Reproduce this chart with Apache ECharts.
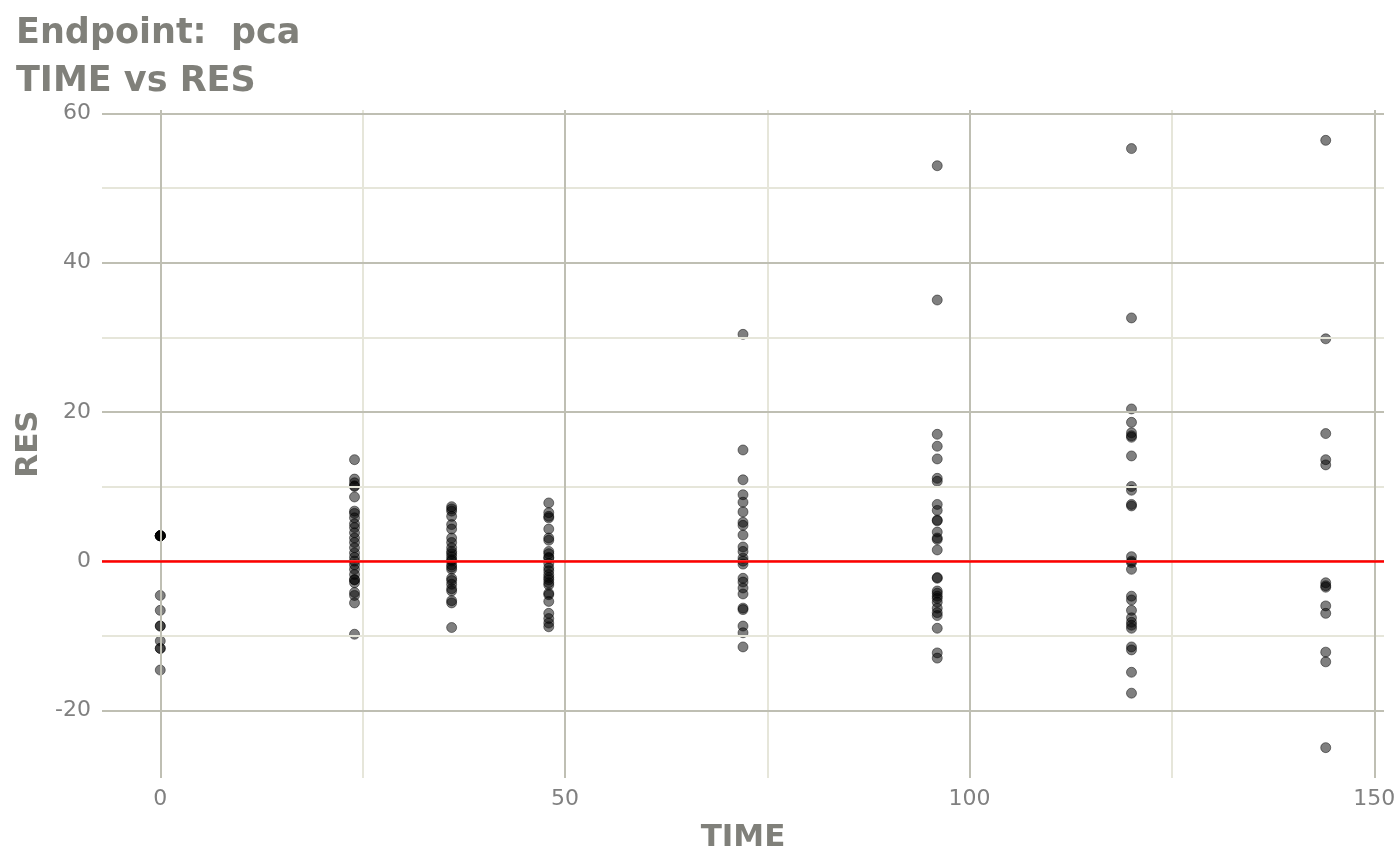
<!DOCTYPE html>
<html>
<head>
<meta charset="utf-8">
<script src="https://cdn.jsdelivr.net/npm/echarts@6/dist/echarts.min.js"></script>
<style>html,body{margin:0;padding:0;background:#fff}#c{width:1400px;height:865px}</style>
</head>
<body>
<div id="c"></div>
<script>
// ---- data ----
const times = [0, 24, 36, 48, 72, 96, 120, 144];
const res0   = [3.4, 3.4, 3.4, 3.4, 3.4, 3.4, -4.6, -6.6, -8.7, -8.7, -10.7, -11.7, -11.7, -14.6];
const res24  = [13.6, 11.0, 10.5, 10.1, 10.0, 8.6, 6.7, 6.4, 5.8, 5.0, 4.5, 3.8, 3.1, 2.5, 1.8, 1.1, 0.5, 0.0, -0.5, -1.1, -1.8, -2.5, -2.5, -2.9, -4.2, -4.6, -5.6, -9.8];
const res36  = [7.3, 7.0, 6.7, 6.0, 4.9, 4.3, 3.1, 2.5, 1.8, 1.3, 1.0, 0.6, 0.2, 0.0, -0.5, -0.8, -1.1, -2.3, -2.6, -3.1, -3.7, -4.0, -5.3, -5.6, -8.9];
const res48  = [7.8, 6.5, 6.0, 5.8, 4.3, 3.1, 2.8, 1.3, 1.0, 0.5, 0.4, -0.3, -0.9, -1.3, -1.8, -2.2, -2.5, -2.9, -3.2, -4.3, -4.5, -5.4, -7.0, -7.7, -8.3, -8.8];
const res72  = [30.4, 14.9, 10.9, 8.9, 7.9, 6.6, 5.2, 4.8, 3.5, 1.9, 1.3, 0.4, 0.0, -0.4, -2.3, -2.8, -3.6, -4.4, -6.3, -6.5, -8.7, -9.6, -11.5];
const res96  = [53.0, 35.0, 17.0, 15.4, 13.7, 11.1, 10.7, 7.6, 6.8, 5.5, 5.4, 3.9, 3.1, 2.9, 1.5, -2.2, -2.3, -4.0, -4.3, -4.7, -5.0, -5.5, -6.3, -6.9, -7.3, -9.0, -12.3, -13.0];
const res120 = [55.3, 32.6, 20.4, 18.6, 17.2, 16.8, 16.6, 14.1, 10.0, 9.5, 7.6, 7.4, 0.6, 0.0, -0.2, -1.1, -4.7, -5.2, -6.6, -7.6, -8.2, -8.6, -9.0, -11.5, -11.9, -14.9, -17.7];
const res144 = [56.4, 29.8, 17.1, 13.6, 12.9, -2.9, -3.3, -3.5, -6.0, -7.0, -12.2, -13.5, -25.0];
const resByTime = [res0, res24, res36, res48, res72, res96, res120, res144];

const xTicks = [0, 50, 100, 150];
const xMinor = [25, 75, 125];
const yTicks = [-20, 0, 20, 40, 60];
const yMinor = [-10, 10, 30, 50];
const refLine = 0;

// ---- build ----
const points = [];
times.forEach((t, i) => resByTime[i].forEach(v => points.push([t, v])));

const FONT = 'DejaVu Sans';
const MAJOR = '#bfbfb3';
const MINOR = '#e6e6da';

function gl(axis, vals, color) {
  return vals.map(v => ({ [axis]: v, lineStyle: { color: color, width: 2, type: 'solid' } }));
}

const chart = echarts.init(document.getElementById('c'), null, { renderer: 'canvas' });
chart.setOption({
  backgroundColor: '#ffffff',
  animation: false,
  title: {
    text: 'Endpoint:  pca\nTIME vs RES',
    left: 16, top: 10, padding: 0,
    textStyle: { fontFamily: FONT, fontSize: 35, fontWeight: 'bold', color: '#80807a', lineHeight: 48 }
  },
  grid: { left: 102, right: 16, top: 110, bottom: 87 },
  xAxis: {
    type: 'value', min: -7.2, max: 151.2,
    name: 'TIME', nameLocation: 'middle', nameGap: 44,
    nameTextStyle: { fontFamily: FONT, fontSize: 31, fontWeight: 'bold', color: '#80807a', verticalAlign: 'top' },
    axisLine: { show: false },
    axisTick: { show: true, customValues: xTicks, length: 6, lineStyle: { color: '#707070', width: 2 } },
    axisLabel: { customValues: xTicks, fontFamily: FONT, fontSize: 22, color: '#808080', margin: 10 },
    splitLine: { show: false }
  },
  yAxis: {
    type: 'value', min: -29.07, max: 60.47,
    name: 'RES', nameLocation: 'middle', nameGap: 56, nameRotate: 90,
    nameTextStyle: { fontFamily: FONT, fontSize: 31, fontWeight: 'bold', color: '#80807a' },
    axisLine: { show: false },
    axisTick: { show: true, customValues: yTicks, length: 6, lineStyle: { color: '#707070', width: 2 } },
    axisLabel: { customValues: yTicks, fontFamily: FONT, fontSize: 22, color: '#808080', margin: 11 },
    splitLine: { show: false }
  },
  series: [
    {
      type: 'scatter', data: [], silent: true, z: 1,
      markLine: {
        silent: true, symbol: 'none', animation: false,
        label: { show: false },
        data: [].concat(gl('xAxis', xMinor, MINOR), gl('yAxis', yMinor, MINOR),
                        gl('xAxis', xTicks, MAJOR), gl('yAxis', yTicks, MAJOR))
      }
    },
    {
      type: 'scatter', data: points, z: 3,
      symbol: 'circle', symbolSize: 10,
      itemStyle: { color: 'rgba(0,0,0,0.5)', borderColor: 'rgba(0,0,0,0.45)', borderWidth: 1, opacity: 1 }
    },
    {
      type: 'scatter', data: [], silent: true, z: 4,
      markLine: {
        silent: true, symbol: 'none', animation: false,
        label: { show: false },
        data: [{ yAxis: refLine, lineStyle: { color: '#ff0000', width: 2.5, type: 'solid' } }]
      }
    }
  ]
});
</script>
</body>
</html>
